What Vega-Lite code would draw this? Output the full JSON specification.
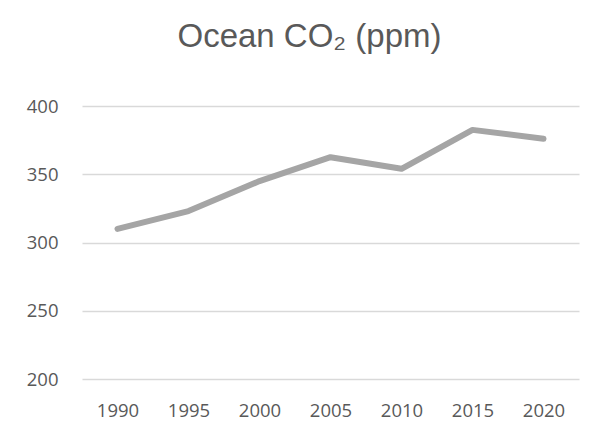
{
  "$schema": "https://vega.github.io/schema/vega-lite/v6.json",
  "autosize": "none",
  "width": 497,
  "height": 273,
  "padding": {"left": 82, "top": 106, "right": 20, "bottom": 60},
  "background": "white",
  "title": {
    "text": "Ocean CO₂ (ppm)",
    "font": "Liberation Sans",
    "fontSize": 33,
    "fontWeight": "normal",
    "color": "#595959",
    "anchor": "middle",
    "dx": -21,
    "offset": 43
  },
  "config": {
    "view": {"stroke": null},
    "axis": {
      "labelFont": "Open Sans",
      "labelFontSize": 18.5,
      "labelColor": "#595959",
      "ticks": false,
      "domain": false,
      "title": null,
      "gridColor": "#D9D9D9",
      "gridWidth": 1.5
    }
  },
  "data": {
    "values": [
      {"year": "1990", "ppm": 310},
      {"year": "1995", "ppm": 323},
      {"year": "2000", "ppm": 345},
      {"year": "2005", "ppm": 362.5},
      {"year": "2010", "ppm": 354},
      {"year": "2015", "ppm": 382.5},
      {"year": "2020", "ppm": 376}
    ]
  },
  "mark": {"type": "line", "color": "#A5A5A5", "strokeWidth": 6, "strokeCap": "round", "strokeJoin": "round"},
  "encoding": {
    "x": {
      "field": "year",
      "type": "ordinal",
      "scale": {"padding": 0.5},
      "axis": {"labelAngle": 0, "grid": false, "labelPadding": 22}
    },
    "y": {
      "field": "ppm",
      "type": "quantitative",
      "scale": {"domain": [200, 400], "nice": false, "zero": false},
      "axis": {"values": [200, 250, 300, 350, 400], "grid": true, "labelPadding": 24}
    }
  }
}
